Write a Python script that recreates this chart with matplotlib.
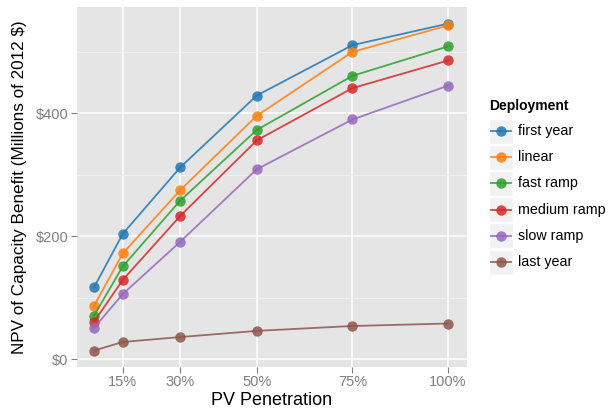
import matplotlib as mpl
mpl.use('Agg')
import matplotlib.pyplot as plt
from matplotlib.patches import Rectangle

plt.rcParams['font.family'] = ['Liberation Sans', 'DejaVu Sans']

# PV penetration (%) and NPV of capacity benefit (millions of 2012 $)
penetration = [7.5, 15, 30, 50, 75, 100]
first_year = [117, 204, 312, 429, 511, 546]
linear = [87, 172, 275, 396, 500, 543]
fast_ramp = [71, 151, 258, 373, 461, 509]
medium_ramp = [61, 129, 233, 356, 441, 486]
slow_ramp = [51, 106, 191, 309, 390, 445]
last_year = [14, 28, 36, 46, 54, 58]

series_names = ["first year", "linear", "fast ramp", "medium ramp", "slow ramp", "last year"]
series_values = [first_year, linear, fast_ramp, medium_ramp, slow_ramp, last_year]
colors = ["#1f77b4", "#ff7f0e", "#2ca02c", "#d62728", "#9467bd", "#8c564b"]

x_ticks = [15, 30, 50, 75, 100]
x_labels = ["15%", "30%", "50%", "75%", "100%"]
y_ticks = [0, 200, 400]
y_labels = ["$0", "$200", "$400"]

fig = plt.figure(figsize=(6.1, 4.13), dpi=100)
ax = fig.add_axes([0.126, 0.111, 0.64, 0.872])
ax.set_facecolor("#E5E5E5")
for s in ax.spines.values():
    s.set_visible(False)

# grid: major white, minor lighter
ax.set_xticks(x_ticks)
ax.set_xticklabels(x_labels)
ax.set_yticks(y_ticks)
ax.set_yticklabels(y_labels)
ax.set_yticks([100, 300, 500], minor=True)
ax.grid(which='major', color='white', linewidth=1.1)
ax.grid(which='minor', axis='y', color='#F2F2F2', linewidth=0.6)
ax.set_axisbelow(True)
ax.tick_params(which='minor', length=0)
ax.tick_params(which='major', color='#7F7F7F', length=4, width=0.8,
               labelcolor='#7F7F7F', labelsize=10.5, pad=2)

for name, vals, c in zip(series_names, series_values, colors):
    ax.plot(penetration, vals, color=c, alpha=0.85, linewidth=1.3,
            marker='o', markersize=7.5, markeredgewidth=0, label=name)

ax.set_xlim(3.0, 105)
ax.set_ylim(-13, 573)
ax.set_xlabel("PV Penetration", fontsize=13, labelpad=2)
ax.set_ylabel("NPV of Capacity Benefit (Millions of 2012 $)", fontsize=12.3, labelpad=6)

# legend, ggplot style with grey key boxes
lax = fig.add_axes([0, 0, 1, 1], facecolor='none')
lax.set_xlim(0, 610)
lax.set_ylim(413, 0)
lax.axis('off')
lax.text(489, 106, "Deployment", fontsize=10, fontweight='bold', va='center', ha='left')
for i, (name, c) in enumerate(zip(series_names, colors)):
    yc = 131 + i * 26.2
    lax.add_patch(Rectangle((489, yc - 12.5), 24, 25, facecolor='#F2F2F2',
                            edgecolor='white', linewidth=1))
    lax.plot([491, 511], [yc, yc], color=c, alpha=0.85, linewidth=1.3)
    lax.plot([501], [yc], color=c, alpha=0.85, marker='o', markersize=7.5,
             markeredgewidth=0)
    lax.text(518, yc, name, fontsize=10.3, va='center', ha='left')

fig.savefig("out.png", dpi=100)
